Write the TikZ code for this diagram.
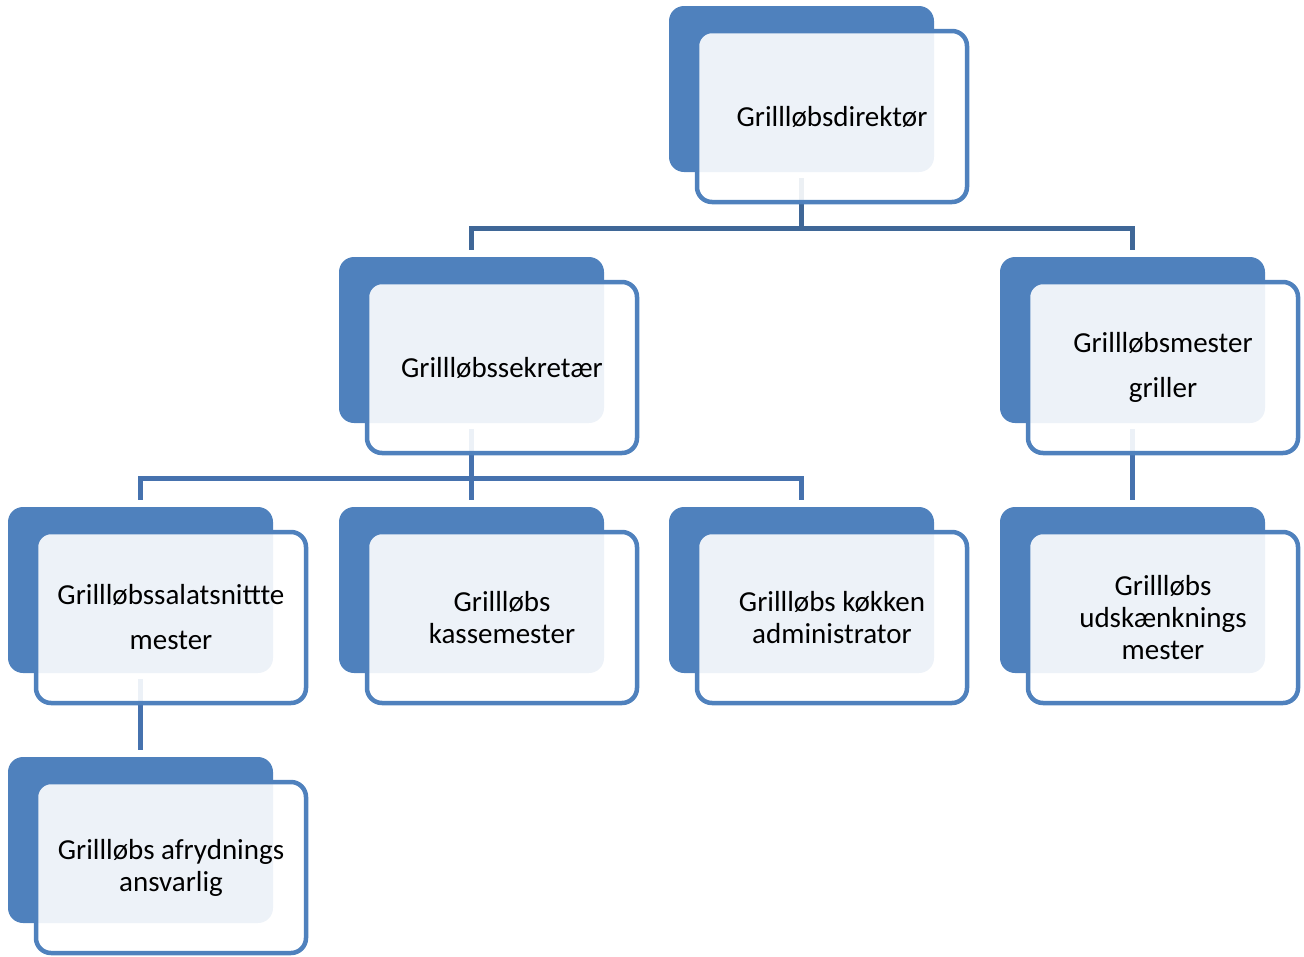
\documentclass[tikz,border=0pt]{standalone}
\usepackage{fontspec}
\setmainfont{Carlito}
\definecolor{accent}{HTML}{4F81BD}
\definecolor{connA}{HTML}{3F6797}
\definecolor{connB}{HTML}{4672AE}
\tikzset{
  darkbox/.style={anchor=north west, fill=accent, draw=none, rounded corners=15pt,
    minimum width=265pt, minimum height=166pt, inner sep=0pt, outer sep=0pt},
  frontbox/.style={anchor=north west, fill=white, fill opacity=0.9, text opacity=1,
    draw=accent, line width=4.5pt, rounded corners=15pt,
    minimum width=270pt, minimum height=171pt, inner sep=0pt, outer sep=0pt,
    align=center, font=\fontsize{29}{32}\selectfont},
  connone/.style={draw=connA, line width=5pt},
  conntwo/.style={draw=connB, line width=5pt},
}
\begin{document}
\begin{tikzpicture}[x=1pt,y=-1pt]
\useasboundingbox (0,0) rectangle (1304,956);
% dark back boxes
\node[darkbox] (Ad) at (669,6) {};
\node[darkbox] (Bd) at (339,257) {};
\node[darkbox] (Cd) at (1000,257) {};
\node[darkbox] (Dd) at (8,507) {};
\node[darkbox] (Ed) at (339,507) {};
\node[darkbox] (Fd) at (669,507) {};
\node[darkbox] (Gd) at (1000,507) {};
\node[darkbox] (Hd) at (8,757) {};
% connectors
\draw[connone] ([yshift=-6pt]Ad.south) |- ([yshift=29pt]Bd.north) -- ([yshift=7pt]Bd.north);
\draw[connone] ([yshift=-6pt]Ad.south) |- ([yshift=29pt]Cd.north) -- ([yshift=7pt]Cd.north);
\draw[conntwo] ([yshift=-6pt]Bd.south) |- ([yshift=29pt]Dd.north) -- ([yshift=7pt]Dd.north);
\draw[conntwo] ([yshift=-6pt]Bd.south) -- ([yshift=7pt]Ed.north);
\draw[conntwo] ([yshift=-6pt]Bd.south) |- ([yshift=29pt]Fd.north) -- ([yshift=7pt]Fd.north);
\draw[conntwo] ([yshift=-6pt]Cd.south) -- ([yshift=7pt]Gd.north);
\draw[conntwo] ([yshift=-6pt]Dd.south) -- ([yshift=7pt]Hd.north);
% front boxes
\node[frontbox] (A) at (697,31) {Grillløbsdirektør};
\node[frontbox] (B) at (367,282) {Grillløbssekretær};
\node[frontbox] (C) at (1028,282) {Grillløbsmester\\[13pt]griller};
\node[frontbox] (D) at (36,532) {Grillløbssalatsnittte\\[13pt]mester};
\node[frontbox] (E) at (367,532) {Grillløbs\\kassemester};
\node[frontbox] (F) at (697,532) {Grillløbs køkken\\administrator};
\node[frontbox] (G) at (1028,532) {Grillløbs\\udskænknings\\mester};
\node[frontbox] (H) at (36,782) {Grillløbs afrydnings\\ansvarlig};
\end{tikzpicture}
\end{document}
